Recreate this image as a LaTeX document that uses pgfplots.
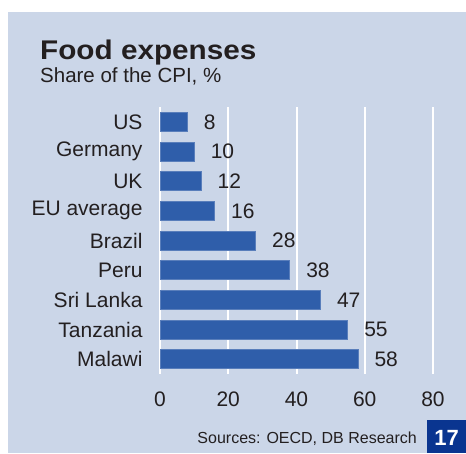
\documentclass[border=0pt]{standalone}
\usepackage{pgfplots}
\pgfplotsset{compat=1.18}
\usepackage{fontspec}
\setmainfont{Liberation Sans}
\definecolor{panel}{HTML}{CBD6E8}
\definecolor{barblue}{HTML}{2F5EAA}
\definecolor{boxblue}{HTML}{0A3590}
\definecolor{txt}{HTML}{231F20}
\begin{document}
\begin{tikzpicture}[x=1pt,y=1pt]
\useasboundingbox (0,0) rectangle (466,453);
\fill[white] (0,0) rectangle (466,453);
\fill[panel] (8,0) rectangle (466,441);
\node[anchor=base west,inner sep=0,text=txt] at (40,393) {\scalebox{1.1}[1]{\fontsize{27}{30}\selectfont\bfseries Food expenses}};
\node[anchor=base west,inner sep=0,text=txt] at (40,370) {\fontsize{20.5}{24}\selectfont Share of the CPI, \%};
\begin{axis}[
  at={(160pt,79pt)}, anchor=south west,
  scale only axis, width=273pt, height=267pt,
  xmin=0, xmax=80, ymin=-0.5, ymax=8.5,
  xbar, bar width=19pt,
  axis line style={draw=none},
  major tick length=0pt,
  xtick={0,20,40,60,80},
  ytick={0,...,8},
  yticklabels={Malawi,Tanzania,Sri Lanka,Peru,Brazil,EU average,UK,Germany,US},
  xmajorgrids, major grid style={white, line width=2pt},
  /pgf/number format/assume math mode=true,
  tick label style={font=\fontsize{21}{24}\selectfont, text=txt},
  xticklabel style={yshift=-14pt},
  yticklabel style={xshift=-14pt},
  nodes near coords,
  every node near coord/.append style={anchor=west, xshift=13pt, font=\fontsize{21}{24}\selectfont, text=txt},
]
\addplot[fill=barblue, draw=barblue!80!white, line width=0.6pt] coordinates {
 (58,0) (55,1) (47,2) (38,3) (28,4) (16,5) (12,6) (10,7) (8,8)
};
\end{axis}
\node[anchor=base east,inner sep=0,text=txt] at (417,10) {\fontsize{16}{19}\selectfont Sources: OECD, DB Research};
\fill[boxblue] (427,0) rectangle (466,33);
\node[text=white,inner sep=0] at (446.5,15.5) {\fontsize{22}{24}\selectfont\bfseries 17};
\end{tikzpicture}
\end{document}
